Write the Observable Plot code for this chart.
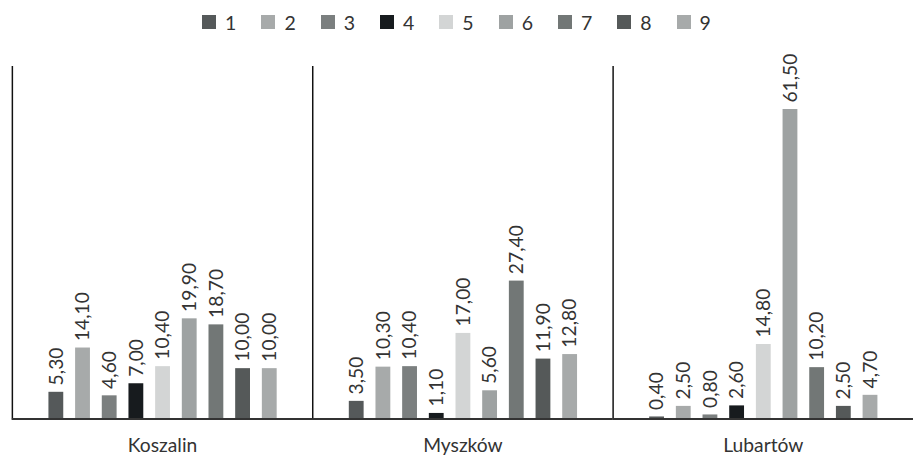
<!DOCTYPE html>
<html>
<head>
<meta charset="utf-8">
<script src="https://cdn.jsdelivr.net/npm/d3@7"></script>
<script src="https://cdn.jsdelivr.net/npm/@observablehq/plot@0.6"></script>
<style>
  html, body { margin: 0; padding: 0; background: #fff; overflow: hidden; }
  body { width: 913px; height: 459px; font-family: Lato, "Open Sans", sans-serif; }
  #legend { height: 44px; display: flex; justify-content: center; align-items: center; gap: 25px; font-size: 19.5px; color: #333; }
  #legend .item { display: flex; align-items: center; }
  #legend .sw { width: 14px; height: 14px; margin-right: 9px; }
  #chart svg { display: block; overflow: visible; }
</style>
</head>
<body>
<div id="legend"></div>
<div id="chart"></div>
<script>
// Towns (one panel each) and the nine series shown in every panel
const cities = ["Koszalin", "Myszków", "Lubartów"];
const series = ["1", "2", "3", "4", "5", "6", "7", "8", "9"];

// Values per town, in series order 1–9
const koszalin = [5.3, 14.1, 4.6, 7.0, 10.4, 19.9, 18.7, 10.0, 10.0];
const myszkow = [3.5, 10.3, 10.4, 1.1, 17.0, 5.6, 27.4, 11.9, 12.8];
const lubartow = [0.4, 2.5, 0.8, 2.6, 14.8, 61.5, 10.2, 2.5, 4.7];

// Grey shades for the series
const colors = ["#55595a", "#a7aaaa", "#7b7f7f", "#171b1e", "#d3d5d5", "#9ea2a2", "#727776", "#555959", "#a7aaaa"];

const valuesByCity = [koszalin, myszkow, lubartow];
const rows = cities.flatMap((city, i) =>
  series.map((s, j) => ({city, series: s, value: valuesByCity[i][j]}))
);

const fmt = v => v.toFixed(2).replace(".", ",");

// Legend above the plot
const legend = document.getElementById("legend");
series.forEach((s, j) => {
  const item = document.createElement("div");
  item.className = "item";
  const sw = document.createElement("span");
  sw.className = "sw";
  sw.style.background = colors[j];
  const label = document.createElement("span");
  label.textContent = s;
  item.append(sw, label);
  legend.append(item);
});

const chart = Plot.plot({
  width: 924,
  height: 415,
  marginLeft: 12,
  marginRight: 0,
  marginTop: 22.5,
  marginBottom: 36,
  style: {fontFamily: "Lato, 'Open Sans', sans-serif", fontSize: "19.5px", color: "#333", background: "#fff"},
  fx: {domain: cities, padding: 0, label: null, tickSize: 0, tickPadding: 20},
  x: {domain: series, paddingInner: 0.46, paddingOuter: 1.2, axis: null},
  y: {domain: [0, 70], axis: null},
  color: {domain: series, range: colors},
  marks: [
    Plot.frame({anchor: "left", stroke: "#111", strokeWidth: 1.5}),
    Plot.barY(rows, {fx: "city", x: "series", y: "value", fill: "series"}),
    Plot.ruleY([0], {stroke: "#333", strokeWidth: 2}),
    Plot.text(rows, {
      fx: "city", x: "series", y: "value",
      text: d => fmt(d.value),
      rotate: -90, textAnchor: "start", dy: -7,
      fill: "#333", fontSize: 19.5
    })
  ]
});
document.getElementById("chart").append(chart);
</script>
</body>
</html>
